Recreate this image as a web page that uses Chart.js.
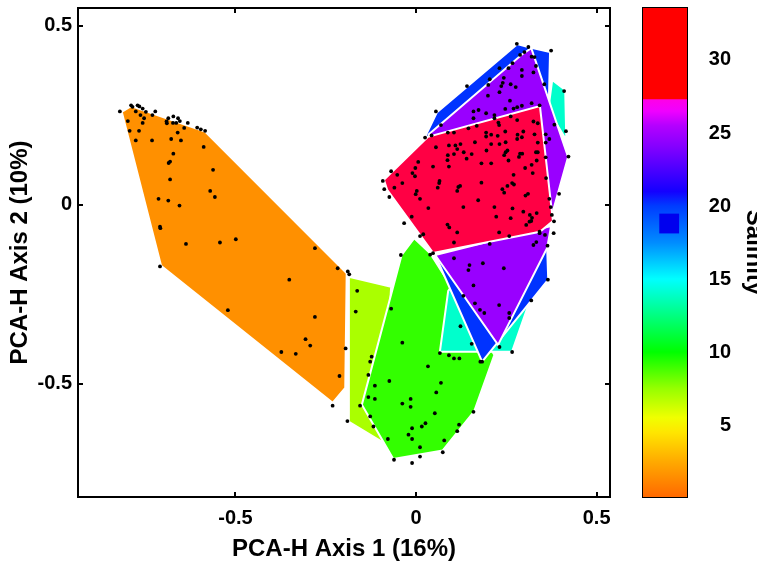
<!DOCTYPE html>
<html>
<head>
<meta charset="utf-8">
<script src="https://cdn.jsdelivr.net/npm/chart.js@4.4.1/dist/chart.umd.min.js"></script>
<style>
  html, body { margin: 0; padding: 0; background: #fff; overflow: hidden; }
  #main { position: absolute; left: 0; top: 0; width: 620px; height: 565px; }
  #cbar { position: absolute; left: 620px; top: 0; width: 150px; height: 565px; }
</style>
</head>
<body>
<canvas id="main" width="620" height="565"></canvas>
<canvas id="cbar" width="150" height="565"></canvas>
<script>
// axis ranges and ticks
const xRange = [-0.936, 0.537];
const yRange = [-0.816, 0.550];
const axisTicks = [-0.5, 0, 0.5];
const salinityRange = [0.07, 33.56];
const salinityTicks = [5, 10, 15, 20, 25, 30];

// convex hulls of the site groups (PCA-H axis 1, axis 2)
const hullOrange = [[-0.815, 0.260], [-0.789, 0.276], [-0.584, 0.205], [-0.192, -0.191], [-0.196, -0.511], [-0.231, -0.553], [-0.706, -0.170]];
const hullLime = [[-0.186, -0.201], [-0.069, -0.229], [-0.094, -0.662], [-0.188, -0.605]];
const hullGreen = [[-0.005, -0.093], [0.039, -0.135], [0.217, -0.419], [0.161, -0.577], [0.074, -0.686], [-0.063, -0.710], [-0.150, -0.558], [-0.040, -0.140]];
const hullCyanLow = [[0.066, -0.410], [0.089, -0.240], [0.150, -0.159], [0.316, -0.265], [0.266, -0.410]];
const hullCyanHigh = [[0.377, 0.349], [0.413, 0.321], [0.416, 0.181], [0.366, 0.265]];
const hullBlueLow = [[0.053, -0.140], [0.183, -0.438], [0.366, -0.209], [0.363, -0.120]];
const hullBlueHigh = [[0.025, 0.190], [0.058, 0.259], [0.280, 0.449], [0.310, 0.441], [0.371, 0.427], [0.368, 0.299], [0.233, 0.209]];
const hullPurpleHigh = [[0.033, 0.195], [0.294, 0.421], [0.319, 0.438], [0.421, 0.134], [0.374, -0.036]];
const hullPurpleLow = [[0.053, -0.140], [0.374, -0.059], [0.363, -0.120], [0.227, -0.391]];
const hullRed = [[-0.089, 0.070], [-0.080, 0.042], [0.047, -0.134], [0.343, -0.075], [0.379, -0.045], [0.343, 0.276], [0.033, 0.190]];

// sample scores
const ptsOrange = [[-0.820, 0.261], [-0.789, 0.278], [-0.785, 0.274], [-0.771, 0.278], [-0.766, 0.275], [-0.757, 0.269], [-0.776, 0.261], [-0.763, 0.251], [-0.748, 0.260], [-0.753, 0.242],
  [-0.722, 0.261], [-0.730, 0.251], [-0.798, 0.234], [-0.757, 0.229], [-0.793, 0.207], [-0.767, 0.207], [-0.776, 0.180], [-0.731, 0.180], [-0.686, 0.242], [-0.691, 0.233],
  [-0.690, 0.228], [-0.672, 0.247], [-0.673, 0.229], [-0.664, 0.229], [-0.659, 0.242], [-0.654, 0.234], [-0.632, 0.229], [-0.642, 0.215], [-0.660, 0.202], [-0.651, 0.180],
  [-0.678, 0.184], [-0.606, 0.216], [-0.596, 0.211], [-0.584, 0.207], [-0.588, 0.162], [-0.672, 0.143], [-0.685, 0.117], [-0.681, 0.121], [-0.562, 0.098], [-0.681, 0.071],
  [-0.570, 0.039], [-0.557, 0.022], [-0.713, 0.017], [-0.686, 0.012], [-0.655, -0.002], [-0.709, -0.061], [-0.708, -0.065], [-0.637, -0.109], [-0.543, -0.105], [-0.499, -0.096],
  [-0.280, -0.121], [-0.709, -0.172], [-0.217, -0.177], [-0.189, -0.186], [-0.185, -0.194], [-0.351, -0.209], [-0.521, -0.294], [-0.280, -0.313], [-0.306, -0.375], [-0.293, -0.393],
  [-0.195, -0.401], [-0.373, -0.411], [-0.333, -0.416], [-0.212, -0.478], [-0.231, -0.561]];
const ptsLime = [[-0.163, -0.240], [-0.167, -0.298], [-0.155, -0.561], [-0.190, -0.604]];
const ptsGreen = [[-0.069, -0.290], [-0.123, -0.424], [-0.127, -0.438], [-0.038, -0.385], [-0.132, -0.475], [-0.074, -0.492], [0.033, -0.451], [0.069, -0.497], [0.056, -0.524], [-0.114, -0.505],
  [-0.132, -0.537], [-0.114, -0.542], [-0.015, -0.542], [-0.038, -0.555], [-0.015, -0.564], [-0.127, -0.591], [-0.118, -0.619], [0.052, -0.582], [0.026, -0.610], [0.016, -0.619],
  [-0.011, -0.624], [-0.021, -0.642], [-0.011, -0.654], [0.119, -0.614], [0.114, -0.632], [0.159, -0.578], [-0.078, -0.654], [0.078, -0.658], [0.011, -0.677], [0.074, -0.691],
  [0.011, -0.703], [-0.061, -0.712], [-0.011, -0.721], [-0.042, -0.140], [0.039, -0.139], [0.047, -0.135]];
const ptsLower = [[0.066, -0.414], [0.091, -0.420], [0.105, -0.429], [0.120, -0.429], [0.178, -0.438], [0.183, -0.438], [0.123, -0.339], [0.154, -0.388], [0.231, -0.397], [0.266, -0.411],
  [0.105, -0.149], [0.148, -0.168], [0.145, -0.182], [0.185, -0.163], [0.243, -0.177], [0.159, -0.225], [0.131, -0.254], [0.163, -0.275], [0.177, -0.293], [0.189, -0.302],
  [0.230, -0.280], [0.258, -0.302], [0.258, -0.316], [0.319, -0.267], [0.325, -0.112], [0.333, -0.104], [0.357, -0.084], [0.364, -0.114], [0.365, -0.209], [0.381, -0.079],
  [0.382, -0.046], [0.204, -0.109], [0.105, -0.105], [-0.033, -0.051], [0.087, -0.055], [0.092, -0.063], [0.114, -0.077], [0.011, -0.087], [0.020, -0.082], [0.230, -0.077],
  [0.258, -0.087], [0.305, -0.056], [0.314, -0.047], [0.342, -0.075], [0.342, -0.079]];
const ptsRed = [[0.025, 0.188], [0.043, 0.194], [0.088, 0.202], [0.105, 0.202], [0.145, 0.214], [0.168, 0.221], [0.228, 0.230], [0.230, 0.223], [0.247, 0.205], [0.194, 0.202],
  [0.208, 0.196], [0.194, 0.191], [0.226, 0.193], [0.281, 0.196], [0.297, 0.205], [0.325, 0.233], [0.337, 0.228], [0.328, 0.197], [0.359, 0.197], [0.369, 0.184],
  [0.359, 0.174], [0.337, 0.174], [0.280, 0.184], [0.293, 0.189], [0.091, 0.166], [0.109, 0.166], [0.123, 0.170], [0.114, 0.156], [0.163, 0.175], [0.055, 0.161],
  [0.208, 0.170], [0.231, 0.170], [0.248, 0.175], [0.195, 0.152], [0.105, 0.142], [0.088, 0.139], [0.132, 0.147], [0.154, 0.142], [0.248, 0.147], [0.253, 0.152],
  [0.244, 0.139], [0.288, 0.143], [0.294, 0.143], [0.285, 0.134], [0.332, 0.147], [0.337, 0.147], [0.359, 0.133], [0.334, 0.124], [0.320, 0.112], [0.302, 0.103],
  [0.256, 0.124], [0.208, 0.116], [0.181, 0.116], [0.140, 0.129], [0.087, 0.125], [0.006, 0.120], [0.047, 0.107], [0.091, 0.107], [-0.002, 0.103], [-0.069, 0.094],
  [-0.052, 0.084], [-0.010, 0.089], [-0.003, 0.080], [-0.092, 0.067], [-0.038, 0.061], [0.065, 0.067], [0.064, 0.061], [0.181, 0.062], [0.323, 0.089], [0.270, 0.084],
  [0.360, 0.075], [-0.060, 0.048], [-0.088, 0.044], [0.060, 0.048], [0.117, 0.050], [0.122, 0.053], [0.114, 0.039], [0.239, 0.044], [0.244, 0.034], [0.253, 0.053],
  [0.266, 0.061], [0.271, 0.057], [0.002, 0.039], [-0.001, 0.030], [-0.074, 0.022], [0.011, 0.017], [0.310, 0.031], [0.303, 0.026], [0.369, 0.017], [0.396, 0.031],
  [0.172, 0.013], [0.034, -0.009], [0.131, -0.006], [0.217, -0.006], [0.267, -0.010], [0.297, -0.019], [0.334, -0.023], [0.373, -0.006], [0.315, -0.028], [0.321, -0.036],
  [0.222, -0.033], [0.262, -0.037], [0.319, -0.045], [-0.012, -0.033], [0.376, -0.028]];
const ptsUpper = [[0.279, 0.450], [0.311, 0.441], [0.374, 0.431], [0.300, 0.427], [0.288, 0.419], [0.320, 0.414], [0.328, 0.413], [0.267, 0.396], [0.332, 0.388], [0.256, 0.382],
  [0.231, 0.382], [0.293, 0.377], [0.325, 0.370], [0.293, 0.360], [0.204, 0.351], [0.243, 0.355], [0.240, 0.341], [0.236, 0.332], [0.262, 0.337], [0.276, 0.329],
  [0.200, 0.335], [0.141, 0.332], [0.231, 0.315], [0.199, 0.305], [0.355, 0.337], [0.410, 0.318], [0.260, 0.291], [0.320, 0.284], [0.342, 0.278], [0.280, 0.273],
  [0.270, 0.269], [0.247, 0.268], [0.055, 0.261], [0.173, 0.265], [0.159, 0.261], [0.194, 0.256], [0.159, 0.242], [0.217, 0.251], [0.217, 0.242], [0.293, 0.277],
  [0.262, 0.247], [0.280, 0.237], [0.069, 0.223], [0.383, 0.224], [0.415, 0.206], [0.422, 0.135]];

// salinity colour bar
const salinityStops = [[0.07, '#ff6900'], [2.5, '#ffaa00'], [4.5, '#ffe600'], [5.5, '#f0ff00'], [7.5, '#96ff00'], [10, '#00ff00'],
  [12.5, '#00ff80'], [15, '#00ffff'], [17.5, '#008cff'], [20, '#003cff'], [21, '#1400ff'], [24, '#8200ff'], [25.5, '#b400ff'],
  [26.5, '#f000ff'], [27.33, '#ff00e6']];
const salinityRedFrom = 27.33;
const markerSalinity = 18.8;

const titleX = 'PCA-H Axis 1 (16%)';
const titleY = 'PCA-H Axis 2 (10%)';
const titleBar = 'Salinity';

Chart.defaults.font.family = "'Liberation Sans', Arial, sans-serif";
Chart.defaults.font.weight = 'bold';
Chart.defaults.color = '#000';

const toXY = arr => arr.map(p => ({x: p[0], y: p[1]}));
const closed = arr => toXY(arr.concat([arr[0]]));

function hull(points, color, order) {
    return {
        data: closed(points),
        showLine: true,
        fill: 'shape',
        backgroundColor: color,
        borderColor: '#ffffff',
        borderWidth: 2,
        pointRadius: 0,
        order: order
    };
}

function noPad(s) {
    s.paddingLeft = 0;
    s.paddingRight = 0;
    s.paddingTop = 0;
    s.paddingBottom = 0;
}

const tickFont = {size: 20, weight: 'bold'};
const titleFont = {size: 24, weight: 'bold'};
const frameGrid = {drawOnChartArea: false, drawTicks: true, tickLength: -5, color: '#000', lineWidth: 2};
const frameBorder = {display: true, color: '#000', width: 2};
const setTicks = list => s => { s.ticks = list.map(v => ({value: v})); };

let samples = [].concat(ptsOrange, ptsLime, ptsGreen, ptsLower, ptsRed, ptsUpper);

new Chart(document.getElementById('main'), {
    type: 'scatter',
    data: {
        datasets: [
            {data: toXY(samples), pointRadius: 1.9, pointBackgroundColor: '#000', pointBorderWidth: 0, order: 0},
            hull(hullRed, '#ff0044', 1),
            hull(hullPurpleLow, '#9900ff', 2),
            hull(hullPurpleHigh, '#9900ff', 3),
            hull(hullBlueHigh, '#0033ff', 4),
            hull(hullBlueLow, '#0033ff', 5),
            hull(hullCyanHigh, '#00ffcc', 6),
            hull(hullCyanLow, '#00ffcc', 7),
            hull(hullGreen, '#33ff00', 8),
            hull(hullLime, '#aaff00', 9),
            hull(hullOrange, '#ff9000', 10)
        ]
    },
    options: {
        responsive: false,
        animation: false,
        events: [],
        layout: {padding: 0, autoPadding: false},
        plugins: {legend: {display: false}, tooltip: {enabled: false}},
        scales: {
            x: {
                type: 'linear', position: 'bottom', min: xRange[0], max: xRange[1],
                afterBuildTicks: setTicks(axisTicks),
                ticks: {font: tickFont, padding: 14, color: '#000'},
                grid: frameGrid, border: frameBorder,
                title: {display: true, text: titleX, font: titleFont, color: '#000', padding: {top: 0, bottom: 1}},
                afterFit: s => { s.height = 68; noPad(s); }
            },
            x2: {
                type: 'linear', position: 'top', min: xRange[0], max: xRange[1],
                afterBuildTicks: setTicks(axisTicks),
                ticks: {display: false},
                grid: frameGrid, border: frameBorder,
                afterFit: s => { s.height = 8; noPad(s); }
            },
            y: {
                type: 'linear', position: 'left', min: yRange[0], max: yRange[1],
                afterBuildTicks: setTicks(axisTicks),
                ticks: {font: tickFont, padding: 11, color: '#000'},
                grid: frameGrid, border: frameBorder,
                title: {display: true, text: titleY, font: titleFont, color: '#000', padding: {top: 6, bottom: 0}},
                afterFit: s => { s.width = 78; noPad(s); }
            },
            y2: {
                type: 'linear', position: 'right', min: yRange[0], max: yRange[1],
                afterBuildTicks: setTicks(axisTicks),
                ticks: {display: false},
                grid: frameGrid, border: frameBorder,
                afterFit: s => { s.width = 10; noPad(s); }
            }
        }
    }
});

// colour bar
function barGradient(ctx) {
    const chart = ctx.chart;
    if (!chart.chartArea) return null;
    const ys = chart.scales.y;
    const v0 = salinityStops[0][0];
    const v1 = salinityStops[salinityStops.length - 1][0];
    const g = chart.ctx.createLinearGradient(0, ys.getPixelForValue(v0), 0, ys.getPixelForValue(v1));
    salinityStops.forEach(s => g.addColorStop((s[0] - v0) / (v1 - v0), s[1]));
    return g;
}

new Chart(document.getElementById('cbar'), {
    type: 'bar',
    data: {
        labels: [''],
        datasets: [
            {data: [[salinityRange[0], salinityRedFrom]], backgroundColor: barGradient, grouped: false, barPercentage: 1, categoryPercentage: 1, order: 2},
            {data: [[salinityRedFrom, salinityRange[1]]], backgroundColor: '#ff0000', grouped: false, barPercentage: 1, categoryPercentage: 1, order: 1},
            {type: 'scatter', xAxisID: 'xs', data: [{x: 0.69, y: markerSalinity}], pointStyle: 'rect', pointRadius: 14,
             pointBackgroundColor: '#0000ee', pointBorderWidth: 0, order: 0}
        ]
    },
    options: {
        responsive: false,
        animation: false,
        events: [],
        // right padding keeps the right-aligned labels ending at the tick column
        layout: {padding: {left: 0, top: 0, bottom: 0, right: 39}, autoPadding: false},
        plugins: {legend: {display: false}, tooltip: {enabled: false}},
        scales: {
            x: {
                type: 'category', position: 'bottom',
                ticks: {display: false},
                grid: Object.assign({}, frameGrid, {offset: false}), border: frameBorder,
                afterFit: s => { s.height = 68; noPad(s); }
            },
            xt: {
                type: 'category', position: 'top', labels: [''],
                ticks: {display: false},
                grid: Object.assign({}, frameGrid, {offset: false}), border: frameBorder,
                afterFit: s => { s.height = 8; noPad(s); }
            },
            // invisible 0..1 axis across the bar, used to place the marker square
            xs: {
                type: 'linear', position: 'bottom', min: 0, max: 1,
                ticks: {display: false}, grid: {display: false}, border: {display: false},
                afterFit: s => { s.height = 0; noPad(s); }
            },
            y: {
                type: 'linear', position: 'right', min: salinityRange[0], max: salinityRange[1],
                afterBuildTicks: setTicks(salinityTicks),
                ticks: {font: tickFont, padding: 27, crossAlign: 'far', color: '#000'},
                grid: frameGrid, border: frameBorder,
                title: {display: true, text: titleBar, font: titleFont, color: '#000', padding: {top: -37, bottom: 0}},
                afterFit: s => { s.width = 44; noPad(s); }
            },
            yl: {
                type: 'linear', position: 'left', min: salinityRange[0], max: salinityRange[1],
                afterBuildTicks: setTicks(salinityTicks),
                ticks: {display: false},
                grid: frameGrid, border: frameBorder,
                afterFit: s => { s.width = 23; noPad(s); }
            }
        }
    }
});
</script>
</body>
</html>
